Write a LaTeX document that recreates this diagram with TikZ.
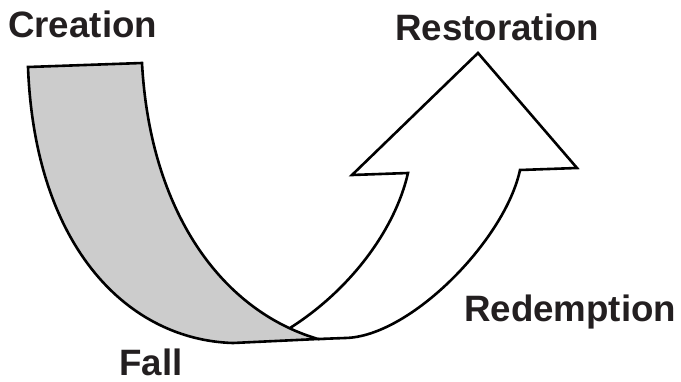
\documentclass[tikz,border=0pt]{standalone}
\usepackage{fontspec}
\setmainfont{Liberation Sans}
\definecolor{bandgrey}{HTML}{CCCCCC}
\definecolor{inkc}{HTML}{231F20}
\begin{document}
\begin{tikzpicture}[x=1pt,y=-1pt,
  outline/.style={draw=black,line width=2.6pt,line join=miter},
  lbl/.style={anchor=base west,inner sep=0pt,text=inkc,font=\fontsize{36.7}{40}\selectfont\bfseries}]
\useasboundingbox (0,0) rectangle (681,381);
% grey band (Creation -> Fall)
\path[outline,fill=bandgrey] (28,67) -- (142,63)
  .. controls (150,210) and (220,310) .. (318,339)
  -- (233,343)
  .. controls (130,340) and (35,250) .. (28,67) -- cycle;
% white arrow (Redemption -> Restoration)
\path[outline] (290,328)
  .. controls (350,290) and (395,230) .. (408,173)
  -- (352,175) -- (478,53) -- (577,168) -- (520,170)
  .. controls (505,240) and (410,337) .. (345,338) -- (318,339);
\node[lbl] (creation) at (8,37) {Creation};
\node[lbl] (restoration) at (395,40) {Restoration};
\node[lbl] (redemption) at (464,321.5) {Redemption};
\node[lbl] (fall) at (119,375) {Fall};
\end{tikzpicture}
\end{document}
